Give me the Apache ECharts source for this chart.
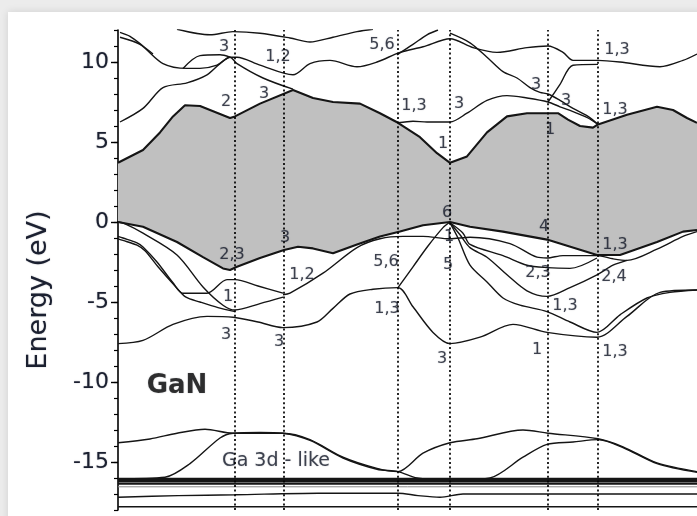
<!DOCTYPE html>
<html>
<head>
<meta charset="utf-8">
<script src="https://cdn.jsdelivr.net/npm/echarts@6/dist/echarts.min.js"></script>
<style>
  html, body { margin: 0; padding: 0; background: #ececec; }
  #chart { width: 697px; height: 516px; }
</style>
</head>
<body>
<div id="chart"></div>
<script>
// ---- k-path (path length units) and energy axis (eV) ----
const kPoints = [117, 166, 280, 332, 430, 480];
const kMax = 579;
const yMin = -18, yMax = 12;
const yTickLabels = [-15, -10, -5, 0, 5, 10];
const yMinorTicks = [-18,-17,-16,-15,-14,-13,-12,-11,-10,-9,-8,-7,-6,-5,-4,-3,-2,-1,0,1,2,3,4,5,6,7,8,9,10,11,12];

// ---- band edges enclosing the gap ----
const cbm = [[0,3.7],[25,4.5],[42,5.6],[55,6.6],[67,7.3],[82,7.25],[112,6.5],[117,6.6],[142,7.4],[175,8.25],[195,7.75],[215,7.5],[242,7.4],[262,6.8],[280,6.2],[302,5.3],[319,4.3],[332,3.7],[349,4.1],[369,5.6],[389,6.6],[409,6.8],[430,6.8],[440,6.8],[450,6.4],[462,6.0],[475,5.9],[480,6.1],[509,6.7],[539,7.2],[555,7.0],[569,6.5],[579,6.2]];
const vbm = [[0,0],[25,-0.3],[59,-1.25],[85,-2.2],[105,-2.9],[112,-3.0],[119,-2.8],[142,-2.25],[166,-1.75],[180,-1.55],[195,-1.65],[215,-1.95],[239,-1.4],[262,-0.9],[282,-0.6],[305,-0.2],[332,0],[352,-0.3],[385,-0.6],[429,-1.1],[479,-2.06],[502,-2.06],[539,-1.25],[565,-0.6],[579,-0.5]];

// ---- conduction bands ----
const c2 = [[2,6.25],[25,7.1],[45,8.4],[69,8.7],[89,9.2],[102,9.9],[112,10.3],[119,9.9],[145,9.0],[175,8.3]];
const c3 = [[2,11.55],[22,11.1],[45,9.9],[69,9.6],[82,9.6],[99,9.8],[112,10.3],[119,10.3],[142,9.8],[175,9.2],[192,9.9],[212,10.1],[239,9.7],[259,10.0],[282,10.6],[305,10.95],[332,11.45],[355,10.9],[379,10.6],[409,10.9],[430,11.0],[445,10.6],[455,10.1],[480,10.1],[502,10.0],[542,9.7],[565,10.1],[579,10.5]];
const c3Loop = [[65,9.6],[82,10.4],[102,10.45],[112,10.3]];
const c3Top = [[2,11.85],[12,11.6],[25,11.0],[35,10.5]];
const u1 = [[59,12.05],[92,11.7],[115,11.9],[142,11.8],[172,11.5],[192,11.25],[215,11.55],[239,11.9],[255,12.05]];
const u3 = [[279,10.45],[295,11.1],[309,11.7],[320,12.0]];
const u4 = [[332,11.8],[352,11.2],[369,10.3],[385,9.4],[399,9.0],[412,8.4],[422,8.1],[430,8.0],[442,7.6],[455,7.1],[470,6.6],[480,6.1]];
const u5 = [[280,6.2],[295,6.3],[309,6.25],[332,6.25],[349,6.8],[369,7.6],[389,7.9],[409,7.75],[430,7.5],[442,7.2],[455,6.9],[470,6.5],[480,6.1]];
const u6 = [[430,7.5],[442,8.6],[455,9.8],[480,9.85]];

// ---- valence bands ----
const va = [[0,0],[5,-0.06],[25,-0.7],[59,-2.06],[85,-4.06],[105,-5.2],[117,-5.5],[142,-5.1],[165,-4.7]];
const vb1 = [[0,-0.9],[5,-1.0],[19,-1.3],[25,-1.56],[39,-2.5],[55,-3.8],[65,-4.45],[89,-4.45],[109,-3.6],[117,-3.6],[140,-4.0],[165,-4.45]];
const vb2 = [[0,-1.05],[5,-1.15],[19,-1.45],[27,-1.8],[40,-2.8],[57,-4.0],[68,-4.7],[82,-5.0],[100,-5.35],[117,-5.6]];
const vA = [[0,-7.6],[25,-7.4],[55,-6.4],[89,-5.9],[115,-5.95],[140,-6.25],[165,-6.6],[199,-6.25],[215,-5.4],[232,-4.5],[255,-4.2],[280,-4.1],[295,-5.3],[315,-6.9],[332,-7.6],[362,-7.2],[395,-6.4],[429,-6.9],[479,-7.2],[509,-5.9],[542,-4.4],[579,-4.25]];
const vP = [[165,-4.55],[172,-4.45],[205,-3.2],[239,-1.6],[262,-1.05],[285,-0.9],[305,-0.9],[332,-1.05],[352,-0.95],[392,-1.35],[419,-2.2],[429,-2.25],[445,-2.1],[479,-2.1],[495,-2.3],[509,-2.4],[539,-1.7],[565,-0.9],[579,-0.6]];
const vQ = [[280,-4.1],[295,-2.8],[310,-1.5],[325,-0.35],[332,0]];
const vS = [[332,-0.05],[340,-1.0],[352,-2.7],[369,-3.75],[385,-4.75],[402,-5.2],[429,-5.6],[452,-6.25],[479,-6.9],[502,-5.8],[529,-4.75],[552,-4.4],[579,-4.25]];
const vT = [[332,-0.05],[342,-0.8],[352,-1.6],[369,-2.2],[389,-3.3],[409,-4.3],[429,-4.65],[452,-4.1],[479,-3.3],[495,-2.7],[509,-2.4]];
const vU = [[332,-0.05],[345,-0.7],[352,-1.4],[385,-2.1],[409,-2.7],[429,-2.85],[452,-2.9],[479,-2.25]];

// ---- semicore (Ga 3d / N 2s) bands ----
const g1 = [[0,-13.8],[32,-13.56],[59,-13.2],[87,-12.95],[115,-13.2],[142,-13.2],[165,-13.2],[192,-13.6],[225,-14.7],[259,-15.4],[280,-15.6],[305,-14.45],[332,-13.8],[359,-13.55],[405,-13.0],[430,-13.2],[480,-13.55],[505,-14.05],[539,-15.06],[579,-15.6]];
const g2 = [[0,-16.05],[47,-15.95],[72,-15.1],[102,-13.5],[115,-13.2],[142,-13.15],[165,-13.2],[192,-13.65],[225,-14.75],[259,-15.45],[280,-15.6],[299,-16.0],[332,-16.15],[372,-16.0],[405,-14.7],[429,-13.9],[455,-13.75],[480,-13.6],[505,-14.1],[539,-15.1],[579,-15.65]];
const d1 = [[0,-16.05],[579,-16.05]];
const d2 = [[0,-16.2],[579,-16.2]];
const d3 = [[0,-16.35],[579,-16.35]];
const d4 = [[0,-16.55],[579,-16.55]];
const s1 = [[0,-17.2],[60,-17.1],[117,-17.05],[200,-16.95],[280,-16.95],[300,-17.1],[322,-17.2],[345,-17.0],[579,-17.0]];
const s2 = [[0,-17.8],[579,-17.8]];

// ---- irreducible-representation labels ----
const symLabels = [
  [106,10.94,'3'],[160,10.3,'1,2'],[264,11.06,'5,6'],[499,10.75,'1,3'],
  [108,7.5,'2'],[146,8.0,'3'],[296,7.25,'1,3'],[341,7.4,'3'],[418,8.56,'3'],[448,7.6,'3'],[497,7.0,'1,3'],
  [325,4.9,'1'],[432,5.75,'1'],
  [329,0.56,'6'],[426,-0.3,'4'],[497,-1.44,'1,3'],
  [114,-2.06,'2,3'],[167,-1.0,'3'],[184,-3.3,'1,2'],[268,-2.5,'5,6'],[331,-0.95,'1'],[330,-2.7,'5'],
  [420,-3.2,'2,3'],[496,-3.4,'2,4'],[447,-5.25,'1,3'],
  [110,-4.7,'1'],[108,-7.06,'3'],[161,-7.5,'3'],[269,-5.44,'1,3'],[324,-8.56,'3'],[419,-8.0,'1'],[497,-8.1,'1,3']
];
const titleLabel = [[59,-10.25,'GaN']];
const bandNote = [[158,-14.94,'Ga 3d - like']];

const thinBands = [c2, c3, c3Loop, c3Top, u1, u3, u4, u5, u6, va, vb1, vb2, vA, vP, vQ, vS, vT, vU, g1, g2, s1, s2];
const edgeBands = [cbm, vbm];
const coreBands = [d1, d2, d3];

const INK = '#151515';
const TEXT = '#1b2030';
const FONT = '"DejaVu Sans"';

function bandSeries(data, width, smooth) {
  return {
    type: 'line', data: data, z: 3, symbol: 'none', smooth: smooth,
    silent: true, animation: false,
    lineStyle: { color: INK, width: width }
  };
}

const series = [];
// dotted verticals at the high-symmetry points (hidden under the gap fill)
series.push({
  type: 'line', data: [], z: 1, silent: true, animation: false,
  markLine: {
    silent: true, symbol: 'none', animation: false,
    label: { show: false },
    lineStyle: { color: '#000', width: 1.7, type: [2, 2.6] },
    data: kPoints.map(k => ({ xAxis: k }))
  }
});
// shaded gap between the valence-band maximum and conduction-band minimum
series.push({
  type: 'custom', z: 2, silent: true, animation: false,
  data: [[0, 0]],
  renderItem: function (params, api) {
    const pts = cbm.map(p => api.coord(p)).concat(vbm.slice().reverse().map(p => api.coord(p)));
    return { type: 'polygon', shape: { points: pts }, style: { fill: '#c0c0c0', stroke: null } };
  }
});
thinBands.forEach(b => series.push(bandSeries(b, 1.4, 0.3)));
edgeBands.forEach(b => series.push(bandSeries(b, 2.1, false)));
coreBands.forEach(b => series.push(bandSeries(b, 2.2, false)));
series.push(Object.assign(bandSeries(d4, 1, false), { lineStyle: { color: '#888', width: 1 } }));

function textSeries(data, font) {
  return {
    type: 'scatter', data: data, z: 4, symbolSize: 0, silent: true, animation: false,
    label: Object.assign({
      show: true, position: 'inside', color: TEXT, fontFamily: FONT,
      textShadowColor: 'rgba(27,32,48,0.45)', textShadowBlur: 1.2,
      formatter: p => p.value[2]
    }, font)
  };
}
series.push(textSeries(symLabels, { fontSize: 16 }));
series.push(textSeries(titleLabel, { fontSize: 26, fontWeight: 'bold', color: '#0d0d0d' }));
series.push(textSeries(bandNote, { fontSize: 19 }));

const chart = echarts.init(document.getElementById('chart'), null, { renderer: 'canvas' });
chart.setOption({
  backgroundColor: 'transparent',
  animation: false,
  graphic: [
    { type: 'rect', z: -10, shape: { x: 8, y: 12, width: 700, height: 520 },
      style: { fill: '#ffffff', shadowBlur: 8, shadowColor: 'rgba(0,0,0,0.12)' } },
    { type: 'text', z: 10, x: 39, y: 290, rotation: Math.PI / 2,
      style: { text: 'Energy (eV)', fill: TEXT, font: '27px "DejaVu Sans"', align: 'center', verticalAlign: 'middle',
               textShadowColor: 'rgba(27,32,48,0.45)', textShadowBlur: 1.2 } }
  ],
  grid: { left: 118, right: 0, top: 30, bottom: 6, containLabel: false },
  xAxis: [
    { type: 'value', min: 0, max: kMax, position: 'bottom',
      axisLine: { show: true, lineStyle: { color: '#000', width: 1.6 } },
      axisTick: { show: false }, axisLabel: { show: false }, splitLine: { show: false } },
    { type: 'value', min: 0, max: kMax, position: 'top',
      axisLine: { show: true, lineStyle: { color: '#000', width: 1.6 } },
      axisTick: { show: false }, axisLabel: { show: false }, splitLine: { show: false } }
  ],
  yAxis: [
    { type: 'value', min: yMin, max: yMax, position: 'left',
      axisLine: { show: true, lineStyle: { color: '#000', width: 1.6 } },
      axisTick: { show: true, inside: false, length: 7, customValues: yTickLabels, lineStyle: { color: '#000', width: 1.4 } },
      axisLabel: { show: true, customValues: yTickLabels, margin: 9, color: TEXT, fontFamily: FONT, fontSize: 22,
                   textShadowColor: 'rgba(27,32,48,0.45)', textShadowBlur: 1.2 },
      splitLine: { show: false } },
    { type: 'value', min: yMin, max: yMax, position: 'left',
      axisLine: { show: false },
      axisTick: { show: true, inside: false, length: 4, customValues: yMinorTicks, lineStyle: { color: '#000', width: 1.2 } },
      axisLabel: { show: false }, splitLine: { show: false } }
  ],
  series: series
});
</script>
</body>
</html>
